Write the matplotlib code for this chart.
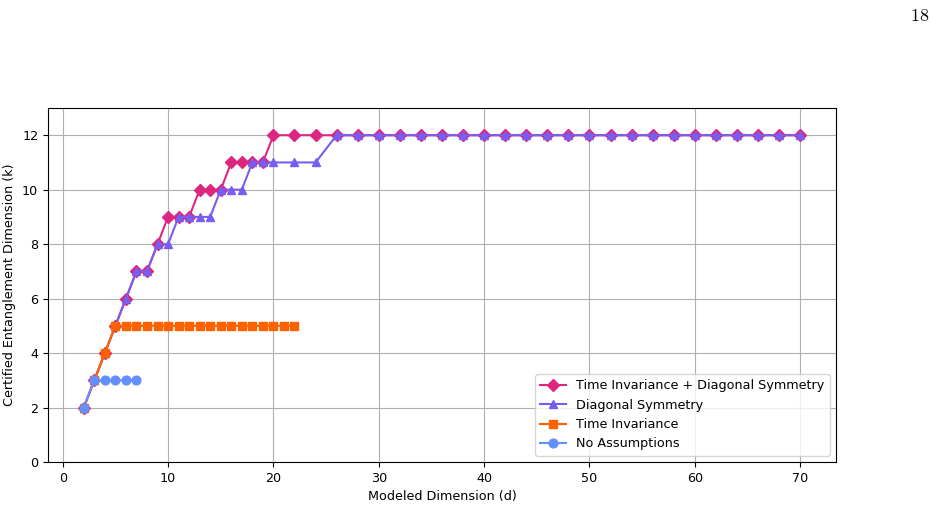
import matplotlib.pyplot as plt

# modeled dimension d and certified entanglement dimension k
d_both = list(range(2, 21)) + list(range(22, 71, 2))
k_both = [2, 3, 4, 5, 6, 7, 7, 8, 9, 9, 9, 10, 10, 10, 11, 11, 11, 11, 12] + [12] * 25

d_diag = list(range(2, 21)) + list(range(22, 71, 2))
k_diag = [2, 3, 4, 5, 6, 7, 7, 8, 8, 9, 9, 9, 9, 10, 10, 10, 11, 11, 11] + [11, 11] + [12] * 23

d_time = list(range(2, 23))
k_time = [2, 3, 4] + [5] * 18

d_none = [2, 3, 4, 5, 6, 7]
k_none = [2, 3, 3, 3, 3, 3]


def generate_chart():
    plt.rcParams['font.size'] = 9.2
    fig = plt.figure(figsize=(9.44, 5.08), dpi=100)
    ax = fig.add_axes([0.0508, 0.0906, 0.8348, 0.6968])

    ax.plot(d_both, k_both, marker='D', ms=6.3, color='#DC267F', label='Time Invariance + Diagonal Symmetry')
    ax.plot(d_diag, k_diag, marker='^', ms=6.3, color='#785EF0', label='Diagonal Symmetry')
    ax.plot(d_time, k_time, marker='s', ms=5.8, color='#FE6100', label='Time Invariance')
    ax.plot(d_none, k_none, marker='o', ms=6.3, color='#648FFF', label='No Assumptions')

    ax.set_ylim(0, 13)
    ax.set_xlabel('Modeled Dimension (d)')
    ax.set_ylabel('Certified Entanglement Dimension (k)')
    ax.grid(True)
    ax.legend(loc='lower right')

    fig.text(0.984, 0.986, r'$\mathrm{18}$', ha='right', va='top', fontsize=13,
             math_fontfamily='cm')

    plt.savefig('out.png')
    plt.close()


if __name__ == '__main__':
    generate_chart()
